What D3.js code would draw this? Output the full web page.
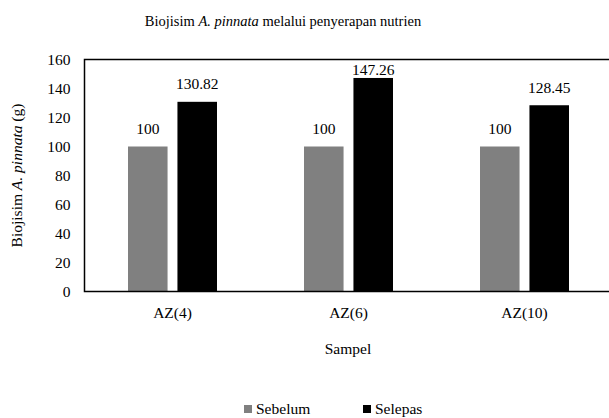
<!DOCTYPE html>
<html>
<head>
<meta charset="utf-8">
<script src="https://cdn.jsdelivr.net/npm/d3@7/dist/d3.min.js"></script>
<style>
  html, body { margin: 0; padding: 0; background: #fff; }
  svg { display: block; font-family: "Liberation Serif", "Times New Roman", serif; }
</style>
</head>
<body>
<svg id="chart" width="609" height="418"></svg>
<script>
// Sample groups, series and measured biomass (g)
const categories = ["AZ(4)", "AZ(6)", "AZ(10)"];
const seriesNames = ["Sebelum", "Selepas"];
const sebelum = [100, 100, 100];
const selepas = [130.82, 147.26, 128.45];
const yTicks = [0, 20, 40, 60, 80, 100, 120, 140, 160];
const seriesColors = ["#808080", "#000000"];

const svg = d3.select("#chart");
const margin = { left: 84.5, right: -3.5, top: 59.5, bottom: 126.5 };
const W = 609, H = 418;
const plotL = margin.left, plotR = W - margin.right;
const plotT = margin.top, plotB = H - margin.bottom;

const x0 = d3.scaleBand().domain(categories).range([plotL, plotR]).paddingInner(0).paddingOuter(0);
const x1 = d3.scaleBand().domain(seriesNames).range([-44.5, 44.5]).paddingInner(0.2);
const y = d3.scaleLinear().domain([0, 160]).range([plotB, plotT]);
const color = d3.scaleOrdinal().domain(seriesNames).range(seriesColors);

const rows = categories.map((c, i) => ({
  cat: c,
  vals: [ { s: seriesNames[0], v: sebelum[i] }, { s: seriesNames[1], v: selepas[i] } ]
}));

// Title
const title = svg.append("text")
  .attr("x", 283).attr("y", 26)
  .attr("text-anchor", "middle")
  .attr("font-size", 14.5)
  .attr("fill", "#000");
title.append("tspan").text("Biojisim ");
title.append("tspan").attr("font-style", "italic").text("A. pinnata");
title.append("tspan").text(" melalui penyerapan nutrien");

// Bars
const groups = svg.append("g").selectAll("g.grp")
  .data(rows).join("g")
  .attr("transform", d => `translate(${x0(d.cat) + x0.bandwidth() / 2},0)`);

groups.selectAll("rect")
  .data(d => d.vals).join("rect")
  .attr("x", d => x1(d.s))
  .attr("width", x1.bandwidth())
  .attr("y", d => y(d.v))
  .attr("height", d => y(0) - y(d.v))
  .attr("fill", d => color(d.s));

// Value labels (kept inside the plot area)
groups.selectAll("text")
  .data(d => d.vals).join("text")
  .attr("x", d => x1(d.s) + x1.bandwidth() / 2)
  .attr("y", d => Math.max(y(d.v) - 12.5, y(160) + 15))
  .attr("text-anchor", "middle")
  .attr("font-size", 15.5)
  .attr("fill", "#000")
  .text(d => String(d.v));

// Plot border
svg.append("rect")
  .attr("x", plotL).attr("y", plotT)
  .attr("width", plotR - plotL).attr("height", plotB - plotT)
  .attr("fill", "none").attr("stroke", "#000").attr("stroke-width", 1.5);

// Y axis labels
const yAxis = d3.axisLeft(y).tickValues(yTicks).tickSize(0).tickPadding(14).tickFormat(d3.format("d"));
const yg = svg.append("g").attr("transform", `translate(${plotL},0)`).call(yAxis);
yg.select(".domain").remove();
yg.selectAll("text").attr("font-size", 15.5).attr("fill", "#000")
  .attr("font-family", "Liberation Serif, Times New Roman, serif");

// X axis labels
const xAxis = d3.axisBottom(x0).tickSize(0).tickPadding(15);
const xg = svg.append("g").attr("transform", `translate(0,${plotB})`).call(xAxis);
xg.select(".domain").remove();
xg.selectAll("text").attr("font-size", 15.5).attr("fill", "#000")
  .attr("font-family", "Liberation Serif, Times New Roman, serif");

// Axis titles
svg.append("text")
  .attr("x", 348).attr("y", 354)
  .attr("text-anchor", "middle")
  .attr("font-size", 15.5).attr("fill", "#000")
  .text("Sampel");

const yt = svg.append("text")
  .attr("transform", `translate(22,${(plotT + plotB) / 2}) rotate(-90)`)
  .attr("text-anchor", "middle")
  .attr("font-size", 15.5).attr("fill", "#000");
yt.append("tspan").text("Biojisim ");
yt.append("tspan").attr("font-style", "italic").text("A. pinnata");
yt.append("tspan").text(" (g)");

// Legend
const legendX = [244, 363];
const legend = svg.append("g").selectAll("g")
  .data(seriesNames).join("g")
  .attr("transform", (d, i) => `translate(${legendX[i]},405)`);
legend.append("rect").attr("width", 8).attr("height", 8).attr("fill", d => color(d));
legend.append("text").attr("x", 12).attr("y", 9)
  .attr("font-size", 15.5).attr("fill", "#000").text(d => d);
</script>
</body>
</html>
